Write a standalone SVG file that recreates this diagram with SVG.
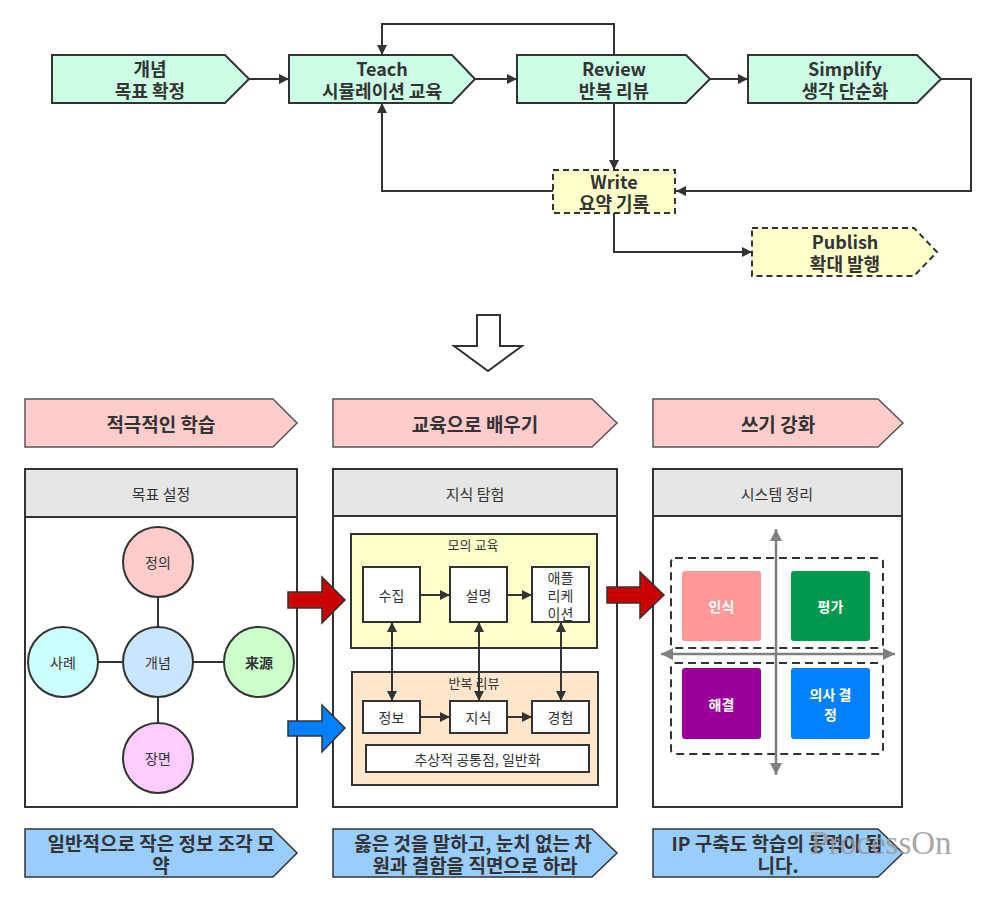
<svg xmlns="http://www.w3.org/2000/svg" width="996" height="902" viewBox="0 0 996 902">
<defs>
<marker id="ah" viewBox="0 0 10 10" refX="10" refY="5" markerWidth="10" markerHeight="10" markerUnits="userSpaceOnUse" orient="auto-start-reverse">
<path d="M0,0 L10,5 L0,10 Z" fill="#333"/>
</marker>
<marker id="ag" viewBox="0 0 10 10" refX="10" refY="5" markerWidth="12" markerHeight="12" markerUnits="userSpaceOnUse" orient="auto-start-reverse">
<path d="M0,0 L10,5 L0,10 Z" fill="#808080"/>
</marker>
<style>
text{font-family:"Noto Sans CJK KR","Noto Sans",sans-serif;fill:#333;text-anchor:middle;dominant-baseline:central}
.tn{fill:#ccffe6;stroke:#333;stroke-width:2}
.tw{fill:#ffffcc;stroke:#333;stroke-width:2;stroke-dasharray:6 4}
.tt{font-size:18px;font-weight:bold}
.hd{fill:#ffcccc;stroke:#555;stroke-width:1.5}
.ht{font-size:19px;font-weight:bold}
.bt{fill:#99ccff;stroke:#333;stroke-width:1.5}
.btx{font-size:19px;font-weight:bold}
.pn{fill:#fff;stroke:#333;stroke-width:2}
.ph{fill:#e6e6e6;stroke:#333;stroke-width:2}
.pt{font-size:15px}
.ci{stroke:#333;stroke-width:2}
.ct{font-size:14px}
.ln{stroke:#333;stroke-width:2;fill:none}
.bx{fill:#fff;stroke:#333;stroke-width:2}
.sm{font-size:14px}
.q{stroke:none}
.qt{font-size:14px;font-weight:bold;fill:#fff}
.dsh{fill:none;stroke:#333;stroke-width:2;stroke-dasharray:8 5}
</style>
</defs>
<rect width="996" height="902" fill="#fff"/>

<g id="connectors">
<path class="ln" d="M249,79 H289" marker-end="url(#ah)"/>
<path class="ln" d="M475,79 H517" marker-end="url(#ah)"/>
<path class="ln" d="M710,79 H748" marker-end="url(#ah)"/>
<path class="ln" d="M614,55 V24 H382 V55" marker-end="url(#ah)"/>
<path class="ln" d="M614,103 V170" marker-end="url(#ah)"/>
<path class="ln" d="M941,79 H971 V191 H676" marker-end="url(#ah)"/>
<path class="ln" d="M553,191 H382 V103" marker-end="url(#ah)"/>
<path class="ln" d="M614,213 V252 H752" marker-end="url(#ah)"/>
</g>

<g id="n-concept">
<path class="tn" d="M52,55 H225 L249,79 L225,103 H52 Z"/>
<text class="tt" x="150" y="68">개념</text>
<text class="tt" x="150" y="90">목표 확정</text>
</g>
<g id="n-teach">
<path class="tn" d="M289,55 H452 L475,79 L452,103 H289 Z"/>
<text class="tt" x="382" y="68">Teach</text>
<text class="tt" x="382" y="90">시뮬레이션 교육</text>
</g>
<g id="n-review">
<path class="tn" d="M517,55 H686 L710,79 L686,103 H517 Z"/>
<text class="tt" x="614" y="68">Review</text>
<text class="tt" x="614" y="90">반복 리뷰</text>
</g>
<g id="n-simplify">
<path class="tn" d="M748,55 H917 L941,79 L917,103 H748 Z"/>
<text class="tt" x="845" y="68">Simplify</text>
<text class="tt" x="845" y="90">생각 단순화</text>
</g>
<g id="n-write">
<rect class="tw" x="553" y="170" width="122" height="43"/>
<text class="tt" x="614" y="181">Write</text>
<text class="tt" x="614" y="202">요약 기록</text>
</g>
<g id="n-publish">
<path class="tw" d="M752,228 H914 L937,252 L914,276 H752 Z"/>
<text class="tt" x="845" y="241">Publish</text>
<text class="tt" x="845" y="263">확대 발행</text>
</g>

<g id="big-arrow">
<path d="M477,315 H500 V346 H522 L488,371 L454,346 H477 Z" fill="#fff" stroke="#333" stroke-width="2"/>
</g>

<g id="h1">
<path class="hd" d="M25,399 H273 L297,423 L273,447 H25 Z"/>
<text class="ht" x="161" y="423">적극적인 학습</text>
</g>
<g id="h2">
<path class="hd" d="M333,399 H592 L617,423 L592,447 H333 Z"/>
<text class="ht" x="475" y="423">교육으로 배우기</text>
</g>
<g id="h3">
<path class="hd" d="M653,399 H878 L903,423 L878,447 H653 Z"/>
<text class="ht" x="778" y="423">쓰기 강화</text>
</g>

<g id="panel1">
<rect class="pn" x="25" y="469" width="272" height="338"/>
<rect class="ph" x="25" y="469" width="272" height="48"/>
<text class="pt" x="161" y="493">목표 설정</text>
<path class="ln" d="M158,597 V727 M98,662 H223" stroke-width="1.5"/>
<g id="c-def"><circle class="ci" cx="158" cy="562" r="35" fill="#ffcccc"/><text class="ct" x="158" y="562">정의</text></g>
<g id="c-case"><circle class="ci" cx="63" cy="662" r="35" fill="#ccffff"/><text class="ct" x="63" y="662">사례</text></g>
<g id="c-concept"><circle class="ci" cx="158" cy="662" r="35" fill="#cce5ff"/><text class="ct" x="158" y="662">개념</text></g>
<g id="c-source"><circle class="ci" cx="259" cy="662" r="35" fill="#ccffcc"/><text class="ct" x="259" y="662" style="font-family:'Noto Sans CJK SC',sans-serif;font-weight:bold">来源</text></g>
<g id="c-scene"><circle class="ci" cx="158" cy="758" r="35" fill="#ffccff"/><text class="ct" x="158" y="758">장면</text></g>
</g>

<g id="panel2">
<rect class="pn" x="333" y="469" width="284" height="338"/>
<rect class="ph" x="333" y="469" width="284" height="47"/>
<text class="pt" x="475" y="493">지식 탐험</text>
<g id="g-mock">
<rect x="351" y="534" width="246" height="114" fill="#ffffcc" stroke="#333" stroke-width="2"/>
<text class="sm" x="473" y="544" style="font-size:13px">모의 교육</text>
</g>
<g id="g-rev">
<rect x="352" y="672" width="246" height="113" fill="#ffe6cc" stroke="#333" stroke-width="2"/>
<text class="sm" x="474" y="682" style="font-size:13px">반복 리뷰</text>
</g>
<g id="b-collect"><rect class="bx" x="363" y="567" width="57" height="55"/><text class="sm" x="391.5" y="595">수집</text></g>
<g id="b-explain"><rect class="bx" x="450" y="567" width="57" height="55"/><text class="sm" x="478.5" y="595">설명</text></g>
<g id="b-app"><rect class="bx" x="532" y="567" width="57" height="55"/><text class="sm" x="560.5" y="577">애플</text><text class="sm" x="560.5" y="595">리케</text><text class="sm" x="560.5" y="613">이션</text></g>
<g id="b-info"><rect class="bx" x="363" y="701" width="57" height="32"/><text class="sm" x="391.5" y="717">정보</text></g>
<g id="b-know"><rect class="bx" x="450" y="701" width="57" height="32"/><text class="sm" x="478.5" y="717">지식</text></g>
<g id="b-exp"><rect class="bx" x="532" y="701" width="57" height="32"/><text class="sm" x="560.5" y="717">경험</text></g>
<g id="b-abs"><rect class="bx" x="366" y="745" width="223" height="27"/><text class="sm" x="477.5" y="758.5">추상적 공통점, 일반화</text></g>
<g id="p2-connectors">
<path class="ln" d="M420,595 H450" marker-end="url(#ah)"/>
<path class="ln" d="M507,595 H532" marker-end="url(#ah)"/>
<path class="ln" d="M420,717 H450" marker-end="url(#ah)"/>
<path class="ln" d="M507,717 H532" marker-end="url(#ah)"/>
<path class="ln" d="M392,622 V701" marker-start="url(#ah)" marker-end="url(#ah)"/>
<path class="ln" d="M479,622 V701" marker-start="url(#ah)" marker-end="url(#ah)"/>
<path class="ln" d="M561,622 V701" marker-start="url(#ah)" marker-end="url(#ah)"/>
</g>
</g>

<g id="panel3">
<rect class="pn" x="653" y="469" width="249" height="338"/>
<rect class="ph" x="653" y="469" width="249" height="47"/>
<text class="pt" x="777" y="493">시스템 정리</text>
<rect class="dsh" x="671" y="558" width="212" height="90" rx="4"/>
<rect class="dsh" x="671" y="663" width="212" height="91" rx="4"/>
<g id="q-recog"><rect class="q" x="682" y="571" width="79" height="70" rx="3" fill="#ff9999"/><text class="qt" x="721.5" y="606">인식</text></g>
<g id="q-eval"><rect class="q" x="791" y="571" width="79" height="70" rx="3" fill="#00994d"/><text class="qt" x="830.5" y="606">평가</text></g>
<g id="q-solve"><rect class="q" x="682" y="668" width="79" height="71" rx="3" fill="#990099"/><text class="qt" x="721.5" y="704">해결</text></g>
<g id="q-decide"><rect class="q" x="791" y="668" width="79" height="71" rx="3" fill="#007fff"/><text class="qt" x="830.5" y="694">의사 결</text><text class="qt" x="830.5" y="714">정</text></g>
<g id="axes">
<path d="M776,529 V775" stroke="#808080" stroke-width="2.5" marker-start="url(#ag)" marker-end="url(#ag)"/>
<path d="M661,654 H895" stroke="#808080" stroke-width="2.5" marker-start="url(#ag)" marker-end="url(#ag)"/>
</g>
</g>

<g id="flow-arrows">
<path d="M288,592 H322 V577 L345,600 L322,623 V608 H288 Z" fill="#cc0000" stroke="#333" stroke-width="1.5"/>
<path d="M288,721 H322 V705 L345,728 L322,752 V736 H288 Z" fill="#007fff" stroke="#333" stroke-width="1.5"/>
<path d="M607,587 H640 V572 L664,595 L640,618 V603 H607 Z" fill="#cc0000" stroke="#333" stroke-width="1.5"/>
</g>

<g id="b1">
<path class="bt" d="M25,829 H273 L297,853 L273,877 H25 Z"/>
<text class="btx" x="161" y="842">일반적으로 작은 정보 조각 모</text>
<text class="btx" x="161" y="864">약</text>
</g>
<g id="b2">
<path class="bt" d="M333,829 H592 L617,853 L592,877 H333 Z"/>
<text class="btx" x="473" y="842">옳은 것을 말하고, 눈치 없는 차</text>
<text class="btx" x="475" y="864">원과 결함을 직면으로 하라</text>
</g>
<g id="b3">
<path class="bt" d="M653,829 H878 L903,853 L878,877 H653 Z"/>
<text class="btx" x="777" y="842">IP 구축도 학습의 동력이 됩</text>
<text class="btx" x="778" y="864">니다.</text>
</g>

<text x="881" y="843" style="font-family:'Liberation Serif',serif;font-size:33px;fill:#999;opacity:0.85">ProcessOn</text>
</svg>
